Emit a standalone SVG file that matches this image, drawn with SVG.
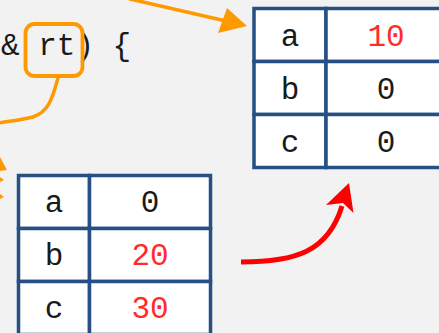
<svg xmlns="http://www.w3.org/2000/svg" width="439" height="333" viewBox="0 0 439 333">
<style>
.cell{fill:#FFFFFF;stroke:#264F83;stroke-width:3.5}
.t{font-family:"Liberation Mono","Courier New",monospace;font-size:31px;text-anchor:middle;fill:#1A1A1A}
.red{fill:#FF2B2B}
.code{font-family:"Liberation Mono","Courier New",monospace;font-size:31px;fill:#1A1A1A}
.or{fill:none;stroke:#FF9900;stroke-width:3.5;stroke-linecap:round}
</style>
<rect x="0" y="0" width="439" height="333" fill="#F2F2F2"/>
<g id="code">
<text class="code" x="1" y="55" xml:space="preserve">&amp; rt) {</text>
<rect x="25.5" y="24" width="57" height="52" rx="9" fill="none" stroke="#FF9900" stroke-width="3.8"/>
</g>
<g id="table-right">
<rect class="cell" x="254" y="8.5" width="72" height="53"/>
<rect class="cell" x="326" y="8.5" width="121" height="53"/>
<rect class="cell" x="254" y="61.5" width="72" height="53"/>
<rect class="cell" x="326" y="61.5" width="121" height="53"/>
<rect class="cell" x="254" y="114.5" width="72" height="53"/>
<rect class="cell" x="326" y="114.5" width="121" height="53"/>
<text class="t" x="290" y="45.5">a</text>
<text class="t red" x="386" y="45.5">10</text>
<text class="t" x="290" y="98.5">b</text>
<text class="t" x="386" y="98.5">0</text>
<text class="t" x="290" y="151.5">c</text>
<text class="t" x="386" y="151.5">0</text>
</g>
<g id="table-left">
<rect class="cell" x="18.5" y="175.5" width="71" height="53"/>
<rect class="cell" x="89.5" y="175.5" width="121" height="53"/>
<rect class="cell" x="18.5" y="228.5" width="71" height="53"/>
<rect class="cell" x="89.5" y="228.5" width="121" height="53"/>
<rect class="cell" x="18.5" y="281.5" width="71" height="53"/>
<rect class="cell" x="89.5" y="281.5" width="121" height="53"/>
<text class="t" x="54" y="212">a</text>
<text class="t" x="150" y="212">0</text>
<text class="t" x="54" y="265">b</text>
<text class="t red" x="150" y="265">20</text>
<text class="t" x="54" y="318">c</text>
<text class="t red" x="150" y="318">30</text>
</g>
<g id="connectors">
<path class="or" d="M130,-1 L226,21"/>
<polygon points="247,26 227,8 218,33" fill="#FF9900"/>
<path class="or" d="M58,78 C52,100 48,112 33,117 C22,120 10,121 -2,123"/>
<polygon points="0,157 7,170 0,171" fill="#FF9900"/>
<polygon points="0,177 4,180 0,182" fill="#FF9900"/>
<polygon points="0,194 4,197 0,199" fill="#FF9900"/>
<path d="M241,262 C295,262 328,252 342,206" fill="none" stroke="#FF0000" stroke-width="5"/>
<polygon points="349,183 353.5,213 343,203 326,205" fill="#FF0000"/>
</g>
</svg>
